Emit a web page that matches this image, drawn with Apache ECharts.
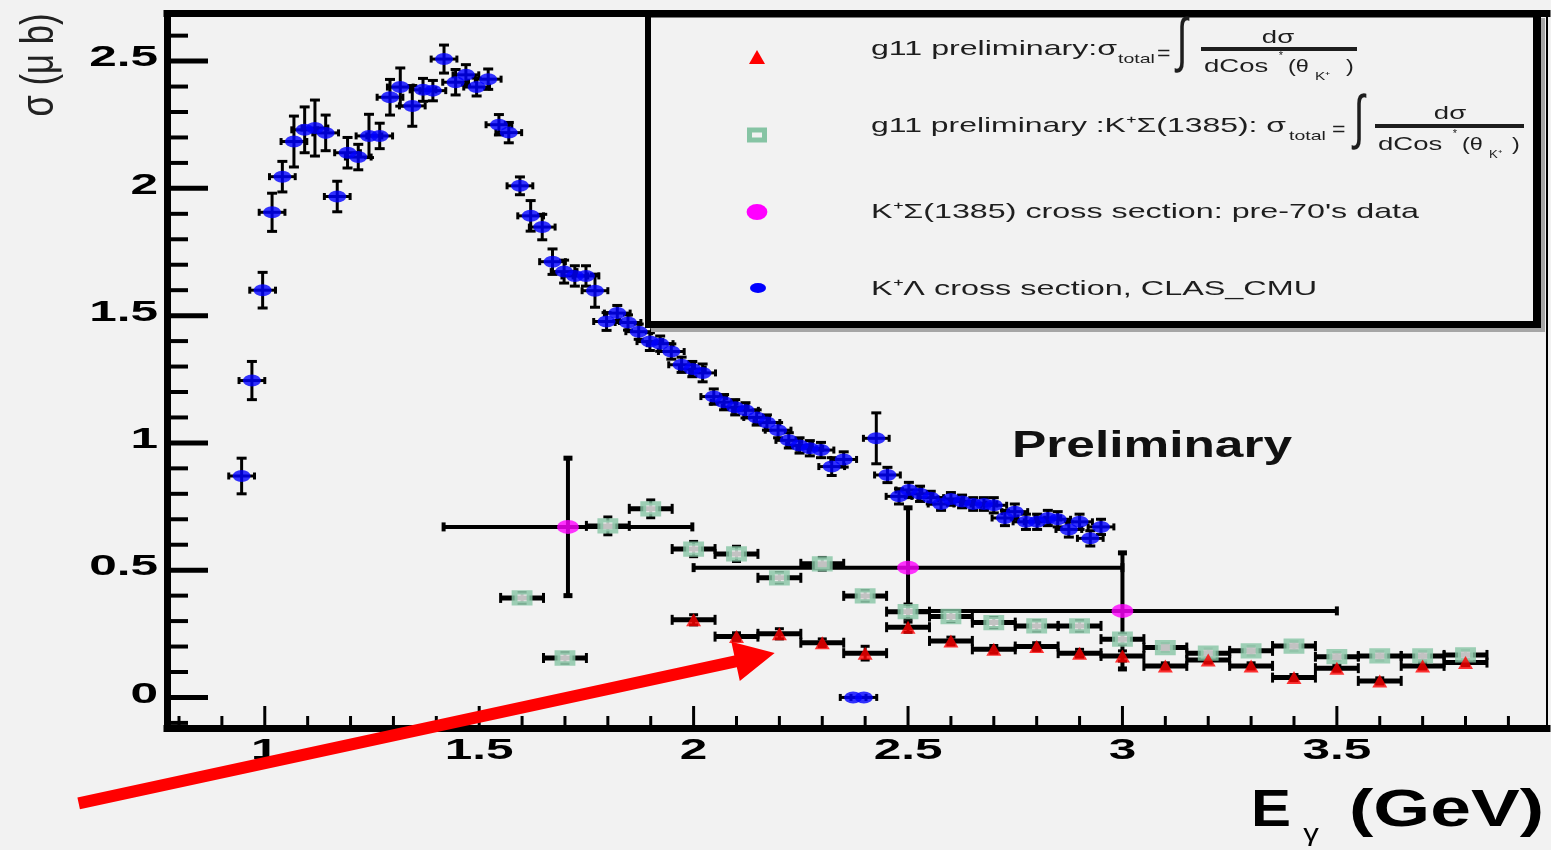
<!DOCTYPE html>
<html>
<head>
<meta charset="utf-8">
<title>K+ photoproduction cross sections</title>
<script src="https://cdn.jsdelivr.net/npm/echarts@6.0.0/dist/echarts.min.js"></script>
<style>
  html, body { margin: 0; padding: 0; background: #f2f2f2; }
  #chart { width: 1551px; height: 850px; }
</style>
</head>
<body>
<div id="chart"></div>
<script>
// K+Λ cross section, CLAS_CMU (E_γ in GeV, σ in μb)
const clasEnergy = [0.946, 0.970, 0.995, 1.017, 1.041, 1.068, 1.093, 1.117, 1.142, 1.169,
  1.193, 1.218, 1.243, 1.268, 1.292, 1.316, 1.344, 1.369, 1.392, 1.418,
  1.445, 1.469, 1.494, 1.521, 1.546, 1.569, 1.595, 1.620, 1.647, 1.671,
  1.698, 1.723, 1.749, 1.770, 1.797, 1.822, 1.847, 1.872, 1.898, 1.922,
  1.948, 1.972, 1.997, 2.021, 2.047, 2.071, 2.097, 2.121, 2.147, 2.171,
  2.197, 2.222, 2.247, 2.271, 2.297, 2.322, 2.350, 2.372, 2.397, 2.426,
  2.452, 2.479, 2.502, 2.528, 2.553, 2.577, 2.600, 2.626, 2.652, 2.677,
  2.700, 2.726, 2.749, 2.775, 2.801, 2.826, 2.849, 2.875, 2.900, 2.925, 2.950];
const clasSigma = [0.87, 1.245, 1.60, 1.906, 2.046, 2.184, 2.23, 2.237, 2.218, 1.968,
  2.14, 2.123, 2.206, 2.206, 2.358, 2.398, 2.324, 2.387, 2.384, 2.508,
  2.417, 2.446, 2.398, 2.429, 2.25, 2.219, 2.01, 1.892, 1.848, 1.712,
  1.673, 1.656, 1.656, 1.598, 1.477, 1.51, 1.473, 1.437, 1.398, 1.39,
  1.359, 1.307, 1.29, 1.275, 1.182, 1.16, 1.14, 1.128, 1.10, 1.08,
  1.05, 1.01, 0.99, 0.979, 0.972, 0.907, 0.935, 0, 0, 1.018,
  0.874, 0.79, 0.815, 0.80, 0.785, 0.76, 0.78, 0.77, 0.76, 0.76,
  0.755, 0.705, 0.73, 0.69, 0.69, 0.705, 0.70, 0.66, 0.69, 0.625, 0.67];
const clasError = [0.07, 0.075, 0.07, 0.075, 0.06, 0.10, 0.09, 0.11, 0.07, 0.06,
  0.06, 0.05, 0.085, 0.05, 0.07, 0.075, 0.08, 0.045, 0.04, 0.055,
  0.05, 0.04, 0.035, 0.04, 0.04, 0.04, 0.035, 0.06, 0.05, 0.05,
  0.045, 0.04, 0.04, 0.065, 0.035, 0.03, 0.03, 0.03, 0.035, 0.03,
  0.03, 0.03, 0.03, 0.035, 0.03, 0.03, 0.03, 0.03, 0.03, 0.03,
  0.03, 0.03, 0.03, 0.03, 0.03, 0.035, 0.03, 0, 0, 0.10,
  0.03, 0.03, 0.03, 0.03, 0.025, 0.025, 0.025, 0.025, 0.025, 0.025,
  0.03, 0.03, 0.03, 0.03, 0.03, 0.03, 0.03, 0.03, 0.03, 0.03, 0.03];
const clasEnergyHalf = 0.03;

// g11 preliminary: K+Σ(1385) total cross section
const sigmaEnergy = [1.6, 1.7, 1.8, 1.9, 2.0, 2.1, 2.2, 2.3, 2.4, 2.5, 2.6, 2.7,
  2.8, 2.9, 3.0, 3.1, 3.2, 3.3, 3.4, 3.5, 3.6, 3.7, 3.8];
const sigmaValue = [0.391, 0.155, 0.674, 0.741, 0.583, 0.564, 0.47, 0.525, 0.399, 0.337, 0.318, 0.294,
  0.281, 0.281, 0.229, 0.196, 0.174, 0.183, 0.202, 0.16, 0.163, 0.163, 0.167];
const sigmaError = [0.02, 0.02, 0.035, 0.035, 0.03, 0.03, 0.02, 0.025, 0.02, 0.03, 0.02, 0.02,
  0.02, 0.02, 0.02, 0.015, 0.015, 0.015, 0.015, 0.015, 0.015, 0.015, 0.015];

// g11 preliminary: σ_total
const totalEnergy = [2.0, 2.1, 2.2, 2.3, 2.4, 2.5, 2.6, 2.7, 2.8, 2.9, 3.0, 3.1,
  3.2, 3.3, 3.4, 3.5, 3.6, 3.7, 3.8];
const totalValue = [0.305, 0.239, 0.25, 0.215, 0.174, 0.276, 0.222, 0.189, 0.2, 0.174, 0.163, 0.124,
  0.147, 0.124, 0.078, 0.115, 0.065, 0.124, 0.137];
const totalError = [0.02, 0.015, 0.02, 0.015, 0.027, 0.02, 0.015, 0.015, 0.015, 0.015, 0.02, 0.012,
  0.012, 0.012, 0.012, 0.012, 0.012, 0.012, 0.012];

const g11EnergyHalf = 0.05;

// K+Σ(1385) cross section: pre-70's data
const oldEnergy = [1.707, 2.5, 3.0];
const oldValue = [0.67, 0.51, 0.34];
const oldEnergyHalf = [0.29, 0.5, 0.5];
const oldError = [0.27, 0.235, 0.228];

// axes
const xRange = [0.772, 3.99];
const yRange = [-0.122, 2.687];
const xTicks = [1, 1.5, 2, 2.5, 3, 3.5];
const xTickLabels = ['1', '1.5', '2', '2.5', '3', '3.5'];
const yTicks = [0, 0.5, 1, 1.5, 2, 2.5];
const yTickLabels = ['0', '0.5', '1', '1.5', '2', '2.5'];
const xMinorStep = 0.1;
const yMinorStep = 0.1;

// annotation arrow, in axis units
const arrowTail = [0.566, -0.4165];
const arrowTip = [2.189, 0.175];

const FONT = '"Liberation Sans", Arial, Helvetica, sans-serif';
const INK = '#000';
const BG = '#f2f2f2';
const RED = '#ff0000';
const GREEN = '#86c4a4';
const MAGENTA = '#ff00ff';
const BLUE = '#0000ff';

const chart = echarts.init(document.getElementById('chart'));
const measure = document.createElement('canvas').getContext('2d');

function rows(E, V, exl, exh, eyl, eyh) {
  return E.map(function (e, i) {
    const pick = function (a) { return Array.isArray(a) ? a[i] : a; };
    return [e, V[i], pick(exl), pick(exh), pick(eyl), pick(eyh)];
  });
}

function errorBars(name, data, st) {
  return {
    type: 'custom', name: name, silent: true,
    encode: { x: 0, y: 1 },
    data: data,
    renderItem: function (params, api) {
      const x = api.value(0), y = api.value(1);
      const p = api.coord([x, y]);
      const xl = api.coord([x - api.value(2), y])[0];
      const xr = api.coord([x + api.value(3), y])[0];
      const yt = api.coord([x, y + api.value(5)])[1];
      const yb = api.coord([x, y - api.value(4)])[1];
      const kids = [];
      const box = function (cx, cy, w, h) {
        kids.push({ type: 'rect', shape: { x: cx - w / 2, y: cy - h / 2, width: w, height: h }, style: { fill: INK } });
      };
      if (xr - xl > 1) {
        box((xl + xr) / 2, p[1], xr - xl, st.h);
        box(xl, p[1], st.hCap[0], st.hCap[1]);
        box(xr, p[1], st.hCap[0], st.hCap[1]);
      }
      if (yb - yt > 1) {
        box(p[0], (yt + yb) / 2, st.v, yb - yt);
        box(p[0], yt, st.vCap[0], st.vCap[1]);
        box(p[0], yb, st.vCap[0], st.vCap[1]);
      }
      return { type: 'group', children: kids };
    }
  };
}

function points(name, E, V, symbol, size, itemStyle) {
  return {
    type: 'scatter', name: name, silent: true,
    data: E.map(function (e, i) { return [e, V[i]]; }),
    symbol: symbol, symbolSize: size,
    itemStyle: itemStyle
  };
}

function hiddenAxis(extra) {
  return Object.assign({
    type: 'value',
    axisTick: { show: false }, axisLabel: { show: false }, splitLine: { show: false }
  }, extra);
}

chart.setOption({
  backgroundColor: BG,
  animation: false,
  grid: { left: 167, right: 4, top: 13.5, bottom: 121.5 },
  xAxis: [
    hiddenAxis({ min: xRange[0], max: xRange[1], position: 'bottom',
      axisLine: { show: true, onZero: false, lineStyle: { color: INK, width: 7, cap: 'square' } } }),
    hiddenAxis({ min: xRange[0], max: xRange[1], position: 'top',
      axisLine: { show: true, onZero: false, lineStyle: { color: INK, width: 7, cap: 'square' } } })
  ],
  yAxis: [
    hiddenAxis({ min: yRange[0], max: yRange[1], position: 'left',
      axisLine: { show: true, onZero: false, lineStyle: { color: INK, width: 7, cap: 'square' } } }),
    hiddenAxis({ min: yRange[0], max: yRange[1], position: 'right',
      axisLine: { show: true, onZero: false, lineStyle: { color: INK, width: 2 } } })
  ],
  series: [
    errorBars('clasErr', rows(clasEnergy, clasSigma, clasEnergyHalf, clasEnergyHalf, clasError, clasError),
      { h: 3, v: 3, hCap: [3, 7], vCap: [10, 3] }),
    points('K+Λ CLAS_CMU', clasEnergy, clasSigma, 'circle', [18, 12], { color: BLUE }),
    errorBars('sigmaErr', rows(sigmaEnergy, sigmaValue, g11EnergyHalf, g11EnergyHalf, sigmaError, sigmaError),
      { h: 5, v: 3, hCap: [3, 10], vCap: [9, 3] }),
    points('g11 K+Σ(1385)', sigmaEnergy, sigmaValue, 'rect', [15, 11],
      { color: BG, borderColor: GREEN, borderWidth: 5 }),
    errorBars('totalErr', rows(totalEnergy, totalValue, g11EnergyHalf, g11EnergyHalf, totalError, totalError),
      { h: 5, v: 3, hCap: [3, 10], vCap: [9, 3] }),
    points('g11 total', totalEnergy, totalValue, 'triangle', [15, 13], { color: RED }),
    errorBars('oldErr', rows(oldEnergy, oldValue, oldEnergyHalf, oldEnergyHalf, oldError, oldError),
      { h: 4, v: 4, hCap: [4, 9], vCap: [9, 5] }),
    points('pre-70 K+Σ(1385)', oldEnergy, oldValue, 'circle', [22, 14], { color: MAGENTA })
  ]
});

// ---------- overlay: ticks, labels, legend, annotation ----------
function toPx(x, y) { return chart.convertToPixel({ xAxisIndex: 0, yAxisIndex: 0 }, [x, y]); }

function text(str, o) {
  const weight = o.weight || 'normal';
  const family = o.family || FONT;
  const font = weight + ' ' + o.size + 'px ' + family;
  let sx = o.scaleX || 1;
  if (o.width) { measure.font = font; sx = o.width / measure.measureText(str).width; }
  const align = o.align || 'left';
  return {
    type: 'text', x: o.x, y: o.y, scaleX: sx, scaleY: o.scaleY || 1, rotation: o.rotation || 0,
    z: 40, silent: true,
    style: {
      text: str, x: 0, y: 0, fill: o.color || '#111',
      font: font, fontSize: o.size, fontWeight: weight, fontFamily: family,
      align: align, verticalAlign: 'middle', textAlign: align, textVerticalAlign: 'middle'
    }
  };
}
function bar(x, y, w, h, color, z) {
  return { type: 'rect', z: z || 35, silent: true, shape: { x: x, y: y, width: w, height: h }, style: { fill: color || INK } };
}

function buildOverlay() {
  const g = [];
  const x0 = toPx(xRange[0], 0)[0];
  const yBottom = toPx(0, yRange[0])[1];
  const isMajor = function (v, ticks) { return ticks.some(function (t) { return Math.abs(t - v) < 1e-6; }); };

  // x axis ticks (inside, upward from the bottom frame)
  for (let v = Math.ceil(xRange[0] / xMinorStep) * xMinorStep; v < xRange[1]; v += xMinorStep) {
    const px = toPx(v, 0)[0];
    const len = isMajor(v, xTicks) ? 19 : 9;
    g.push(bar(px - 1.5, yBottom - 3.5 - len, 3, len + 2));
  }
  // y axis ticks (inside, rightward from the left frame)
  for (let v = Math.ceil(yRange[0] / yMinorStep) * yMinorStep; v < yRange[1]; v += yMinorStep) {
    const py = toPx(xRange[0], v)[1];
    const major = isMajor(v, yTicks);
    const len = major ? 37.5 : 17.5;
    const th = major ? 5 : 4;
    g.push(bar(x0 + 2, py - th / 2, len + 1.5, th));
  }
  // tick labels
  xTicks.forEach(function (v, i) {
    g.push(text(xTickLabels[i], { x: toPx(v, 0)[0], y: 751, size: 30, weight: 'bold', align: 'center', scaleX: 1.65, color: '#000' }));
  });
  yTicks.forEach(function (v, i) {
    g.push(text(yTickLabels[i], { x: 158, y: toPx(xRange[0], v)[1] - 3, size: 30, weight: 'bold', align: 'right', scaleX: 1.65, color: '#000' }));
  });

  // axis titles
  g.push(text('E', { x: 1251, y: 812, size: 51, weight: 'bold', width: 40, color: '#000' }));
  g.push(text('γ', { x: 1311, y: 834, size: 24, align: 'center', scaleX: 1.3, color: '#000' }));
  g.push(text('(GeV)', { x: 1349, y: 812, size: 51, weight: 'bold', width: 195, color: '#000' }));
  g.push(text('σ (μ b)', { x: 40, y: 65, size: 30, align: 'center', width: 103, scaleY: 1.55, rotation: Math.PI / 2, color: '#222' }));

  // "Preliminary" stamp
  g.push(text('Preliminary', { x: 1012, y: 447, size: 37.5, weight: 'bold', width: 280, color: '#111' }));

  // legend box
  const LX0 = 645, LX1 = 1541, LY0 = 10, LY1 = 328;
  g.push({ type: 'rect', z: 30, silent: true, shape: { x: LX0, y: LY0, width: LX1 - LX0, height: LY1 - LY0 }, style: { fill: BG } });
  g.push(bar(LX0 + 6, LY1, LX1 - LX0 - 2, 4, '#a6a6a6', 31));
  g.push(bar(LX1, LY0 + 8, 4, LY1 - LY0 - 4, '#a6a6a6', 31));
  g.push(bar(LX0, LY0, 6, LY1 - LY0, INK, 32));
  g.push(bar(LX1 - 8, LY0, 8, LY1 - LY0, INK, 32));
  g.push(bar(LX0, LY1 - 7, LX1 - LX0, 7, INK, 32));
  g.push(bar(LX0, LY0, LX1 - LX0, 7.5, INK, 32));

  // legend markers
  g.push({ type: 'polygon', z: 36, silent: true, shape: { points: [[757, 50], [749, 64], [765, 64]] }, style: { fill: RED } });
  g.push({ type: 'rect', z: 36, silent: true, shape: { x: 749.5, y: 130, width: 15, height: 10 }, style: { fill: BG, stroke: GREEN, lineWidth: 5 } });
  g.push({ type: 'circle', z: 36, silent: true, x: 757, y: 212, scaleX: 1.3, shape: { cx: 0, cy: 0, r: 8 }, style: { fill: MAGENTA } });
  g.push({ type: 'circle', z: 36, silent: true, x: 758, y: 288, scaleX: 1.6, shape: { cx: 0, cy: 0, r: 5 }, style: { fill: BLUE } });

  const LS = 1.53, LC = '#1e1e1e';
  // entry 1: g11 preliminary σ_total = ∫ dσ / dCos*(θ_K+)
  g.push(text('g11 preliminary:σ', { x: 871, y: 49, size: 21, scaleX: LS, color: LC }));
  g.push(text('total', { x: 1118, y: 59, size: 13, scaleX: 1.5, color: LC }));
  g.push(text('=', { x: 1157, y: 54, size: 21, scaleX: 1.1, color: LC }));
  g.push(text('∫', { x: 1182, y: 44, size: 44, align: 'center', scaleX: 0.9, scaleY: 1.35, color: LC }));
  g.push(bar(1201, 47, 156, 4, LC));
  g.push(text('dσ', { x: 1278, y: 38, size: 18, align: 'center', scaleX: LS, color: LC }));
  g.push(text('dCos', { x: 1204, y: 67, size: 18, scaleX: LS, color: LC }));
  g.push(text('*', { x: 1281, y: 56, size: 11, align: 'center', color: LC }));
  g.push(text('(θ', { x: 1288, y: 67, size: 18, scaleX: 1.3, color: LC }));
  g.push(text('K⁺', { x: 1315, y: 77, size: 11, scaleX: 1.4, color: LC }));
  g.push(text(')', { x: 1346, y: 67, size: 18, scaleX: 1.3, color: LC }));

  // entry 2: g11 preliminary K+Σ(1385) σ_total = ∫ dσ / dCos*(θ_K+)
  g.push(text('g11 preliminary :K⁺Σ(1385): σ', { x: 871, y: 126, size: 21, width: 415, color: LC }));
  g.push(text('total', { x: 1289, y: 136, size: 13, scaleX: 1.5, color: LC }));
  g.push(text('=', { x: 1332, y: 130, size: 21, scaleX: 1.1, color: LC }));
  g.push(text('∫', { x: 1359, y: 121, size: 44, align: 'center', scaleX: 0.9, scaleY: 1.35, color: LC }));
  g.push(bar(1375, 124, 149, 4, LC));
  g.push(text('dσ', { x: 1450, y: 114, size: 18, align: 'center', scaleX: LS, color: LC }));
  g.push(text('dCos', { x: 1378, y: 145, size: 18, scaleX: LS, color: LC }));
  g.push(text('*', { x: 1455, y: 134, size: 11, align: 'center', color: LC }));
  g.push(text('(θ', { x: 1462, y: 145, size: 18, scaleX: 1.3, color: LC }));
  g.push(text('K⁺', { x: 1489, y: 155, size: 11, scaleX: 1.2, color: LC }));
  g.push(text(')', { x: 1512, y: 145, size: 18, scaleX: 1.3, color: LC }));

  // entries 3, 4
  g.push(text('K⁺Σ(1385) cross section: pre-70\'s data', { x: 871, y: 212, size: 21, width: 548, color: LC }));
  g.push(text('K⁺Λ cross section, CLAS_CMU', { x: 871, y: 289, size: 21, width: 446, color: LC }));

  // red annotation arrow
  const a = toPx(arrowTail[0], arrowTail[1]);
  const b = toPx(arrowTip[0], arrowTip[1]);
  const dx = b[0] - a[0], dy = b[1] - a[1];
  const L = Math.hypot(dx, dy);
  const u = [dx / L, dy / L], n = [-u[1], u[0]];
  const headLen = 40, headHalf = 20, shaftHalf = 6;
  const base = [b[0] - u[0] * headLen, b[1] - u[1] * headLen];
  const off = function (p, k) { return [p[0] + n[0] * k, p[1] + n[1] * k]; };
  g.push({
    type: 'polygon', z: 50, silent: true,
    shape: { points: [off(a, shaftHalf), off(base, shaftHalf), off(base, headHalf), b,
      off(base, -headHalf), off(base, -shaftHalf), off(a, -shaftHalf)] },
    style: { fill: RED }
  });

  chart.setOption({ graphic: { elements: g } });
}

buildOverlay();
</script>
</body>
</html>
